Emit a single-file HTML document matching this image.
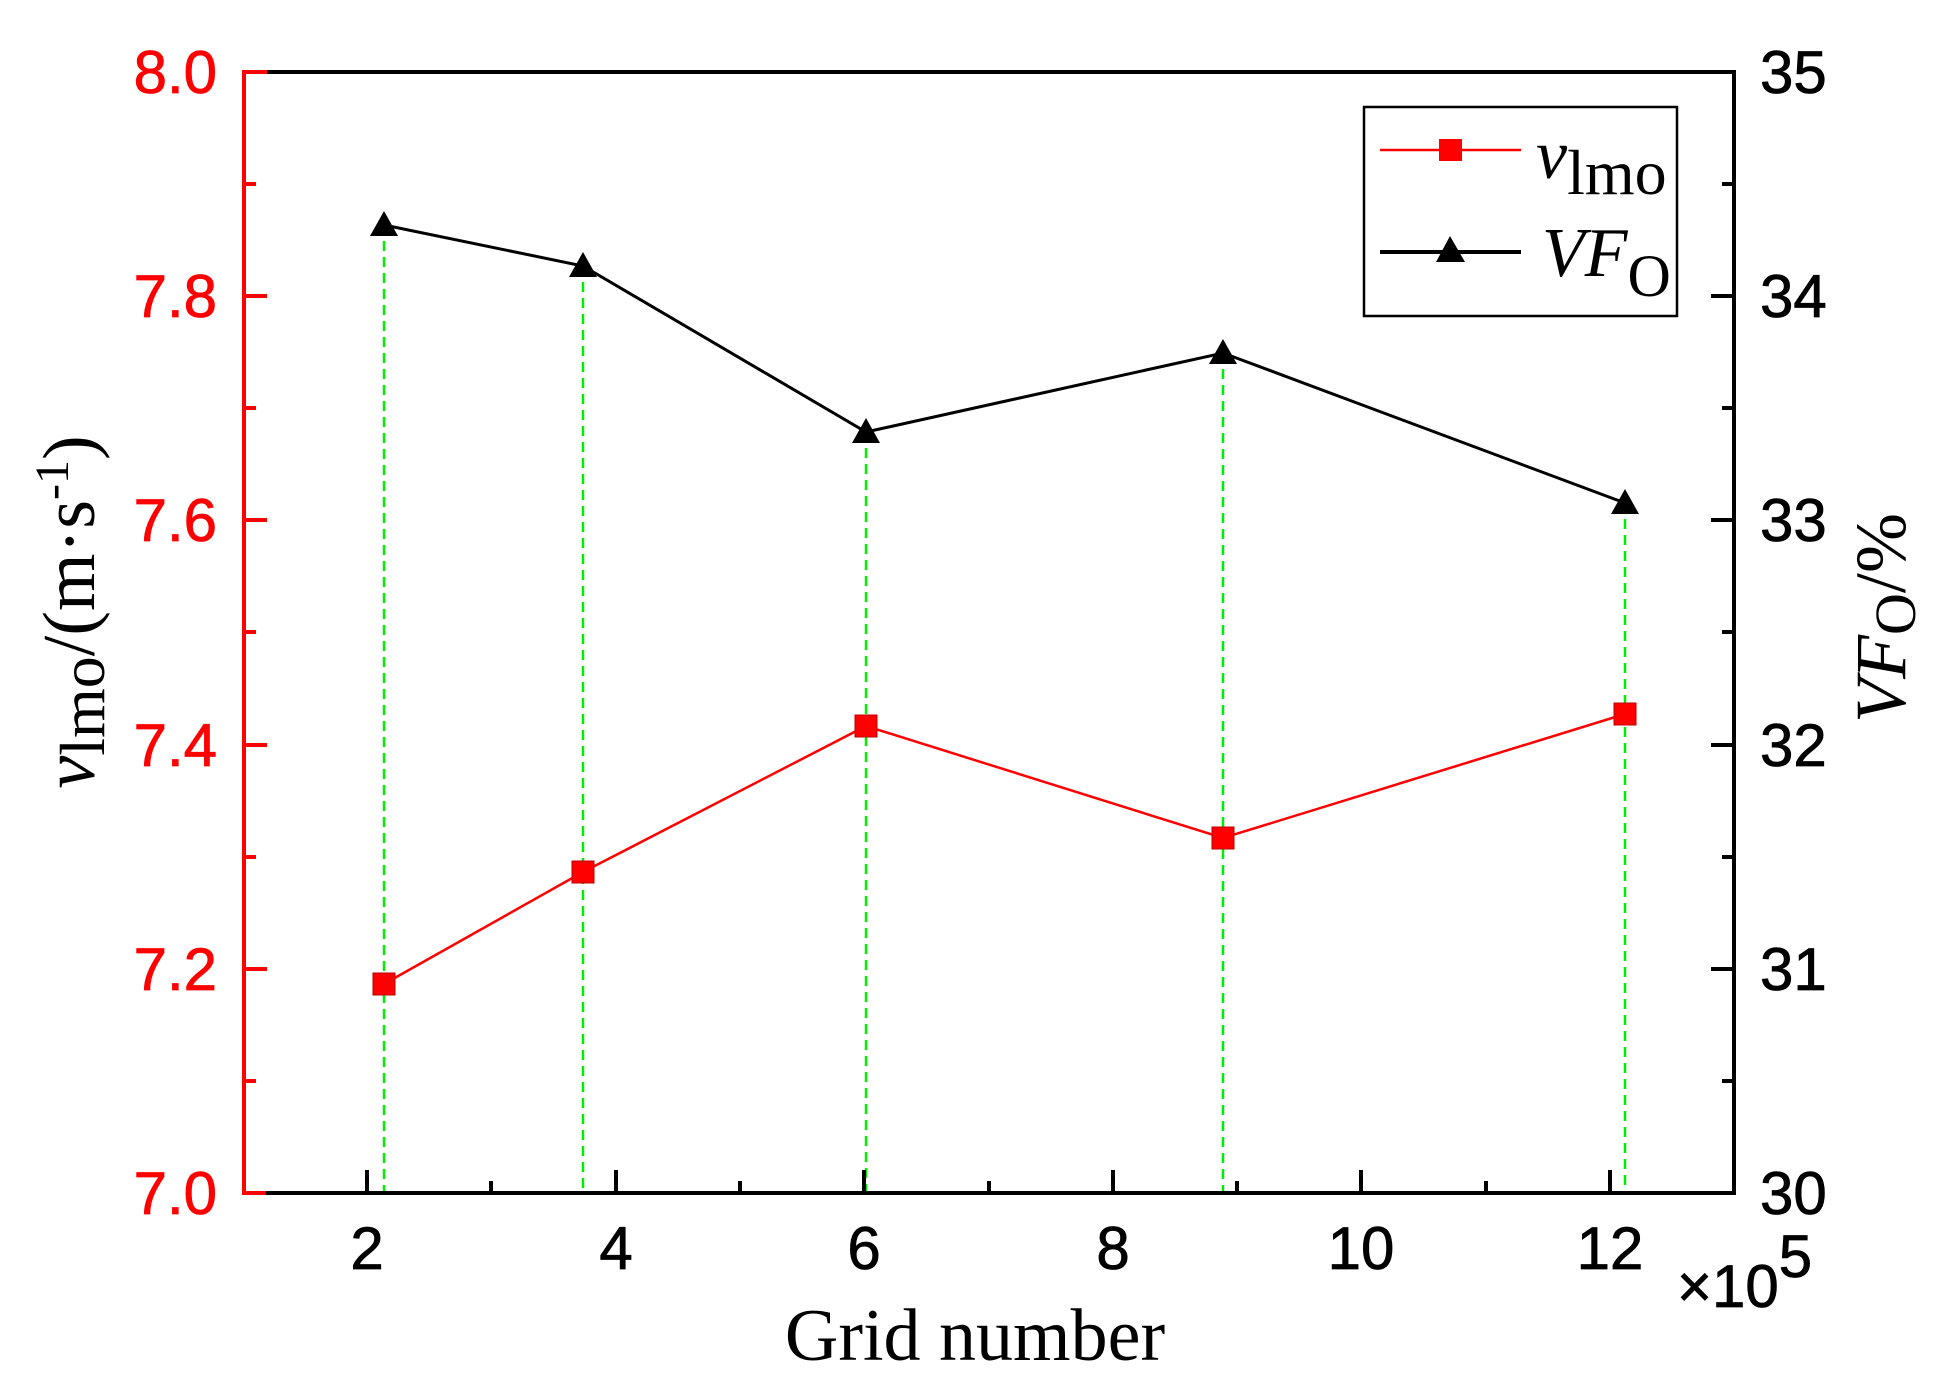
<!DOCTYPE html>
<html><head><meta charset="utf-8"><style>html,body{margin:0;padding:0;background:#fff}svg{display:block}</style></head>
<body>
<svg width="1957" height="1382" viewBox="0 0 1957 1382" xmlns="http://www.w3.org/2000/svg">
<rect width="1957" height="1382" fill="#fff"/>
<g stroke="#00ee00" stroke-width="2.5" stroke-dasharray="10,6" fill="none">
<line x1="384" y1="225" x2="384" y2="1193"/>
<line x1="583" y1="266" x2="583" y2="1193"/>
<line x1="866" y1="432" x2="866" y2="1193"/>
<line x1="1223" y1="353" x2="1223" y2="1193"/>
<line x1="1625" y1="503" x2="1625" y2="1193"/>
</g>
<line x1="244" y1="72" x2="1736" y2="72" stroke="#000" stroke-width="4"/>
<line x1="1734" y1="70" x2="1734" y2="1195" stroke="#000" stroke-width="4"/>
<line x1="242" y1="1193" x2="1736" y2="1193" stroke="#000" stroke-width="4"/>
<line x1="244" y1="70" x2="244" y2="1195" stroke="#f00" stroke-width="4"/>
<line x1="242" y1="1193" x2="266" y2="1193" stroke="#f00" stroke-width="4"/>
<g stroke="#f00" stroke-width="4">
<line x1="244" y1="72" x2="267" y2="72"/><line x1="244" y1="184" x2="256" y2="184"/>
<line x1="244" y1="296" x2="267" y2="296"/><line x1="244" y1="408" x2="256" y2="408"/>
<line x1="244" y1="520" x2="267" y2="520"/><line x1="244" y1="632" x2="256" y2="632"/>
<line x1="244" y1="745" x2="267" y2="745"/><line x1="244" y1="857" x2="256" y2="857"/>
<line x1="244" y1="969" x2="267" y2="969"/><line x1="244" y1="1081" x2="256" y2="1081"/>
</g>
<g stroke="#000" stroke-width="4">
<line x1="1734" y1="184" x2="1722" y2="184"/><line x1="1734" y1="296" x2="1711" y2="296"/>
<line x1="1734" y1="408" x2="1722" y2="408"/><line x1="1734" y1="520" x2="1711" y2="520"/>
<line x1="1734" y1="632" x2="1722" y2="632"/><line x1="1734" y1="745" x2="1711" y2="745"/>
<line x1="1734" y1="857" x2="1722" y2="857"/><line x1="1734" y1="969" x2="1711" y2="969"/>
<line x1="1734" y1="1081" x2="1722" y2="1081"/>
<line x1="367" y1="1193" x2="367" y2="1170"/><line x1="491" y1="1193" x2="491" y2="1181"/>
<line x1="616" y1="1193" x2="616" y2="1170"/><line x1="740" y1="1193" x2="740" y2="1181"/>
<line x1="864" y1="1193" x2="864" y2="1170"/><line x1="989" y1="1193" x2="989" y2="1181"/>
<line x1="1113" y1="1193" x2="1113" y2="1170"/><line x1="1237" y1="1193" x2="1237" y2="1181"/>
<line x1="1361" y1="1193" x2="1361" y2="1170"/><line x1="1486" y1="1193" x2="1486" y2="1181"/>
<line x1="1610" y1="1193" x2="1610" y2="1170"/>
</g>
<g font-family="Liberation Sans, sans-serif" font-size="60" fill="#f00" text-anchor="end" stroke="#f00" stroke-width="0.8">
<text x="217" y="1214">7.0</text><text x="217" y="990">7.2</text><text x="217" y="766">7.4</text>
<text x="217" y="541">7.6</text><text x="217" y="317">7.8</text><text x="217" y="93">8.0</text>
</g>
<g font-family="Liberation Sans, sans-serif" font-size="60" fill="#000" stroke="#000" stroke-width="0.8">
<text x="1760" y="1214">30</text><text x="1760" y="990">31</text><text x="1760" y="766">32</text>
<text x="1760" y="541">33</text><text x="1760" y="317">34</text><text x="1760" y="93">35</text>
</g>
<g font-family="Liberation Sans, sans-serif" font-size="60" fill="#000" text-anchor="middle" stroke="#000" stroke-width="0.8">
<text x="367" y="1269">2</text><text x="616" y="1269">4</text><text x="864" y="1269">6</text>
<text x="1113" y="1269">8</text><text x="1361" y="1269">10</text><text x="1610" y="1269">12</text>
</g>
<text x="1677" y="1307" font-family="Liberation Sans, sans-serif" font-size="60" fill="#000" stroke="#000" stroke-width="0.8">×10<tspan dy="-30">5</tspan></text>
<text x="975" y="1360" font-family="Liberation Serif, serif" font-size="74" text-anchor="middle" fill="#000">Grid number</text>
<text transform="translate(94,612) rotate(-90)" font-family="Liberation Serif, serif" font-size="74" text-anchor="middle" fill="#000"><tspan font-style="italic">v</tspan><tspan dy="10" font-size="64">lmo</tspan><tspan dy="-10">/(m·s</tspan><tspan dy="-26" font-size="48">-1</tspan><tspan dy="26">)</tspan></text>
<text transform="translate(1905,618) rotate(-90)" font-family="Liberation Serif, serif" font-size="72" text-anchor="middle" fill="#000"><tspan font-style="italic">VF</tspan><tspan dy="10" font-size="58">O</tspan><tspan dy="-10">/%</tspan></text>
<polyline points="384,984 583,872 866,726 1223,838 1625,714" fill="none" stroke="#f00" stroke-width="2.5"/>
<g fill="#f00" stroke="#b00" stroke-width="1">
<rect x="373" y="973" width="22" height="22"/><rect x="572" y="861" width="22" height="22"/>
<rect x="855" y="715" width="22" height="22"/><rect x="1212" y="827" width="22" height="22"/>
<rect x="1614" y="703" width="22" height="22"/>
</g>
<polyline points="384,225 583,266 866,432 1223,353 1625,503" fill="none" stroke="#000" stroke-width="3"/>
<g fill="#000">
<polygon points="384,211 370,236 398,236"/><polygon points="583,252 569,277 597,277"/>
<polygon points="866,418 852,443 880,443"/><polygon points="1223,339 1209,364 1237,364"/>
<polygon points="1625,489 1611,514 1639,514"/>
</g>
<rect x="1364" y="107" width="313" height="209" fill="#fff" stroke="#000" stroke-width="2.5"/>
<line x1="1380" y1="150" x2="1521" y2="150" stroke="#f00" stroke-width="2.5"/>
<rect x="1439" y="139" width="23" height="22" fill="#f00"/>
<line x1="1380" y1="252" x2="1521" y2="252" stroke="#000" stroke-width="4"/>
<polygon points="1450,236 1436,262 1465,262" fill="#000"/>
<text x="1536" y="178" font-family="Liberation Serif, serif" font-size="70" fill="#000"><tspan font-style="italic">v</tspan><tspan dy="16" font-size="64">lmo</tspan></text>
<text x="1542" y="276" font-family="Liberation Serif, serif" font-size="70" fill="#000"><tspan font-style="italic">VF</tspan><tspan dy="20" font-size="60">O</tspan></text>
</svg>
</body></html>
